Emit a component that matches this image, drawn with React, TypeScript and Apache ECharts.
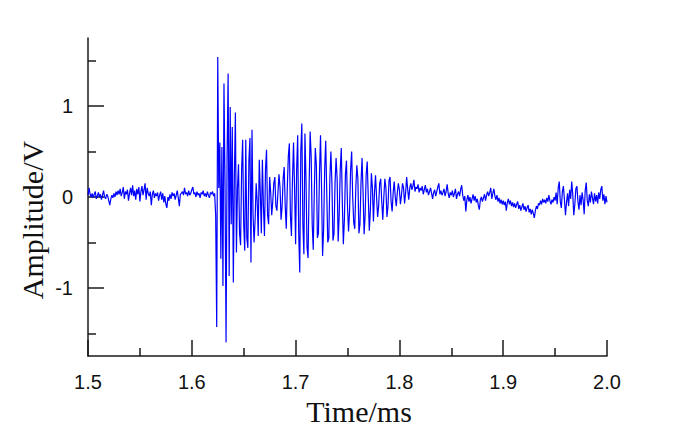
import React, { useEffect, useRef } from "react";
import * as echarts from "echarts";

// Sampling grid of the recorded waveform (ms)
const T_START = 1.5;
const T_STEP = 0.001;

// Amplitude (V), segment by segment
const preBurst = [
  0.02, 0.10, 0.03, 0.00, 0.04, -0.01, 0.03, 0.06, -0.02, 0.01,
  0.05, 0.00, 0.03, -0.03, 0.02, 0.07, 0.00, -0.02, 0.03, 0.01,
  -0.04, -0.09, -0.02, 0.02, -0.01, 0.04, 0.00, 0.06, 0.02, 0.07,
  0.03, 0.09, 0.01, 0.05, 0.11, -0.02, 0.06, 0.03, 0.08, -0.04,
  0.04, 0.10, 0.02, 0.13, 0.01, 0.07, -0.03, 0.09, 0.03, 0.11,
  -0.05, 0.06, 0.12, 0.02, 0.08, 0.15, -0.03, 0.10, 0.04, 0.01,
  0.06, -0.09, 0.03, 0.07, -0.01, 0.04, 0.01, 0.05, -0.04, 0.02,
  0.06, -0.03, 0.04, -0.06, 0.01, -0.08, -0.12, 0.00, -0.04, 0.03,
  -0.02, 0.05, 0.01, 0.04, -0.03, 0.02, 0.07, -0.01, -0.10, 0.03,
  0.04, 0.06, 0.02, 0.10, 0.03, 0.05, 0.01, 0.07, 0.02, 0.04,
  0.08, 0.11, 0.03, 0.05, 0.00, 0.06, 0.02, 0.04, -0.01, 0.05,
  0.03, 0.07, 0.01, 0.04, 0.00, 0.06, 0.02, -0.01, 0.05, 0.03,
  0.06, 0.01, 0.04,
];

const burst = [
  -0.20, -1.43, 1.54, 0.10, 0.60, -0.68, 0.55, -0.98, 1.25, 0.15,
  -1.60, 0.45, 1.36, -0.87, 0.99, -0.30, 0.77, -0.94, 0.20, 0.93,
  -0.61, 0.10, 0.36, -0.40, -0.53, 0.30, 0.63, -0.30, -0.59, 0.63,
  -0.45, -0.56, 0.40, 0.65, -0.72, 0.74, -0.20, -0.50,
];

const waist = [
  -0.25, 0.15, -0.05, -0.43, 0.41, 0.05, -0.40, 0.41, -0.10, -0.43,
  0.30, 0.52, -0.20, -0.30, 0.22, 0.05, -0.20, -0.05, 0.15, 0.22,
  -0.10, -0.15, 0.05, 0.25, 0.10, -0.25, -0.10, 0.20, 0.33, -0.10,
  -0.35, 0.10, 0.45, 0.59, -0.20, -0.43, 0.20, 0.60, 0.10, -0.52,
  0.30, 0.68, -0.40, -0.83, 0.50, 0.81, -0.30, -0.63,
];

const packet = [
  0.70, 0.20, -0.55, -0.67, 0.10, 0.72, 0.45, -0.30, -0.58, 0.05,
  0.54, 0.35, -0.45, -0.40, 0.25, 0.68, 0.10, -0.65, -0.35, 0.30,
  0.62, 0.05, -0.50, -0.45, 0.20, 0.50, 0.15, -0.48, -0.40, 0.15,
  0.43, 0.20, -0.49, -0.20, 0.30, 0.54, -0.05, -0.52, -0.25, 0.25,
  0.40, -0.10, -0.38, -0.15, 0.30, 0.50, 0.00, -0.28, -0.35, 0.10,
  0.35, 0.20, -0.40, -0.30, 0.15, 0.43, 0.05, -0.41, -0.20, 0.25,
  0.39, 0.00, -0.37, -0.15, 0.26, 0.10, -0.27, 0.05, 0.24, 0.00,
  -0.22, -0.10, 0.15, 0.20, -0.05, -0.25, 0.00, 0.20, 0.10, -0.22,
  -0.10, 0.18, 0.22, -0.05, -0.16, 0.05, 0.17, 0.00, -0.10, 0.05,
  0.15, 0.08, -0.08, 0.02, 0.15, 0.10, -0.07, 0.05, 0.22, 0.08,
  -0.03, 0.10,
];

const tail = [
  0.15, 0.08, 0.12, 0.19, 0.06, 0.11, 0.09, 0.14, 0.05, 0.10,
  0.07, 0.12, 0.03, 0.08, 0.13, 0.05, 0.09, 0.02, 0.06, 0.10,
  0.04, -0.02, 0.05, 0.08, 0.01, 0.06, 0.11, 0.15, 0.03, 0.07,
  0.02, 0.05, 0.09, 0.01, 0.06, 0.14, 0.04, -0.01, 0.05, 0.02,
  0.07, 0.00, 0.04, 0.09, -0.02, 0.03, 0.06, 0.01, 0.08, 0.13,
  0.02, -0.04, 0.01, -0.16, -0.03, 0.02, -0.05, 0.00, -0.07, -0.02,
  0.03, -0.04, 0.01, -0.06, -0.02, -0.09, -0.14, -0.03, 0.00, -0.05,
  -0.01, 0.03, -0.04, 0.02, 0.06, 0.01, 0.05, 0.10, -0.02, 0.04,
  0.09, 0.01, -0.03, 0.02, -0.05, -0.01, -0.07, -0.03, -0.08, -0.04,
  -0.09, -0.05, -0.15, -0.06, -0.02, -0.08, -0.04, -0.10, -0.06, -0.11,
  -0.07, -0.12, -0.08, -0.05, -0.13, -0.09, -0.15, -0.11, -0.07, -0.14,
  -0.10, -0.16, -0.12, -0.09, -0.17, -0.13, -0.19, -0.14, -0.18, -0.23,
  -0.15, -0.10, -0.13, -0.07, -0.09, -0.04, -0.08, -0.02, -0.06, -0.03,
  -0.07, -0.01, -0.05, 0.02, -0.04, -0.08, -0.03, -0.06, 0.00, -0.04,
  0.05, -0.08, 0.10, 0.17, -0.05, -0.12, 0.06, 0.12, -0.03, -0.20,
  -0.06, 0.04, -0.10, 0.08, -0.02, 0.17, 0.03, -0.20, -0.08, 0.09,
  0.12, -0.05, -0.14, 0.02, -0.09, 0.05, -0.03, -0.19, 0.07, 0.16,
  -0.04, -0.10, 0.03, -0.06, 0.06, -0.01, -0.08, 0.04, -0.05, 0.02,
  -0.07, 0.05, -0.02, 0.08, 0.12, -0.04, 0.03, -0.08, 0.01, -0.06,
];

// Axis settings
const X_MIN = 1.5;
const X_MAX = 2.0;
const X_INTERVAL = 0.1;
const Y_MIN = -1.75;
const Y_MAX = 1.75;
const yMajorTicks = [-1, 0, 1];
const yMinorTicks = [-1.5, -0.5, 0.5, 1.5];
const xTitle = "Time/ms";
const yTitle = "Amplitude/V";

const AXIS_COLOR = "#1a1a1a";
const SANS = "'Liberation Sans', Arial, sans-serif";
const SERIF = "'Liberation Serif', 'Times New Roman', serif";

export default function App() {
  const ref = useRef<HTMLDivElement>(null);

  useEffect(() => {
    if (!ref.current) return;
    const chart = echarts.init(ref.current, null, { renderer: "svg" });
    const values = [...preBurst, ...burst, ...waist, ...packet, ...tail];
    const data = values.map((v, i) => [Number((T_START + i * T_STEP).toFixed(3)), v]);

    chart.setOption({
      animation: false,
      backgroundColor: "#ffffff",
      grid: { left: 88, top: 38, right: 85, bottom: 71, containLabel: false },
      xAxis: {
        type: "value",
        min: X_MIN,
        max: X_MAX,
        interval: X_INTERVAL,
        axisLine: { show: true, onZero: false, lineStyle: { color: AXIS_COLOR, width: 1.5 } },
        axisTick: { show: true, inside: true, length: 16, lineStyle: { color: AXIS_COLOR, width: 1.5 } },
        minorTick: { show: true, splitNumber: 2, length: 8, lineStyle: { color: AXIS_COLOR, width: 1.5 } },
        axisLabel: {
          margin: 16,
          fontSize: 20,
          fontFamily: SANS,
          color: "#111",
          formatter: (v: number) => v.toFixed(1),
        },
        splitLine: { show: false },
        minorSplitLine: { show: false },
      },
      yAxis: [
        {
          type: "value",
          min: Y_MIN,
          max: Y_MAX,
          position: "left",
          axisLine: { show: true, onZero: false, lineStyle: { color: AXIS_COLOR, width: 1.5 } },
          axisTick: {
            show: true,
            inside: true,
            length: 16,
            customValues: yMajorTicks,
            lineStyle: { color: AXIS_COLOR, width: 1.5 },
          },
          axisLabel: {
            customValues: yMajorTicks,
            margin: 15,
            fontSize: 20,
            fontFamily: SANS,
            color: "#111",
            formatter: (v: number) => String(v),
          },
          splitLine: { show: false },
        },
        {
          type: "value",
          min: Y_MIN,
          max: Y_MAX,
          position: "left",
          axisLine: { show: false, onZero: false },
          axisTick: {
            show: true,
            inside: true,
            length: 8,
            customValues: yMinorTicks,
            lineStyle: { color: AXIS_COLOR, width: 1.5 },
          },
          axisLabel: { show: false },
          splitLine: { show: false },
        },
      ],
      series: [
        {
          type: "line",
          data,
          xAxisIndex: 0,
          yAxisIndex: 0,
          showSymbol: false,
          symbol: "none",
          lineStyle: { color: "#0000ff", width: 1.2 },
          z: 1,
        },
      ],
      graphic: [
        {
          type: "text",
          x: 32,
          y: 220,
          rotation: Math.PI / 2,
          style: {
            text: yTitle,
            fontSize: 30,
            fontFamily: SERIF,
            fill: "#111",
            align: "center",
            verticalAlign: "middle",
          },
        },
        {
          type: "text",
          x: 359,
          y: 411,
          style: {
            text: xTitle,
            fontSize: 30,
            fontFamily: SERIF,
            fill: "#111",
            align: "center",
            verticalAlign: "middle",
          },
        },
      ],
    });

    return () => chart.dispose();
  }, []);

  return (
    <div
      ref={ref}
      style={{ position: "fixed", left: 0, top: 0, width: 692, height: 427, background: "#fff" }}
    />
  );
}
